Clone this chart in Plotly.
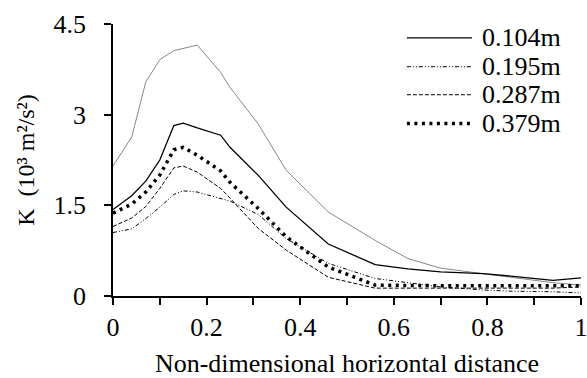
import plotly.graph_objects as go

x = [0, 0.04, 0.07, 0.1, 0.13, 0.15, 0.18, 0.23, 0.25, 0.31, 0.37, 0.46, 0.56, 0.63, 0.70, 0.79, 0.85, 0.94, 1.0]

k_upper = [2.15, 2.63, 3.54, 3.91, 4.06, 4.10, 4.15, 3.70, 3.45, 2.85, 2.08, 1.39, 0.92, 0.62, 0.46, 0.37, 0.31, 0.22, 0.18]
k_104 = [1.43, 1.66, 1.90, 2.25, 2.82, 2.86, 2.78, 2.66, 2.46, 2.00, 1.47, 0.86, 0.52, 0.45, 0.40, 0.37, 0.33, 0.26, 0.30]
k_195 = [1.05, 1.11, 1.28, 1.47, 1.68, 1.74, 1.72, 1.62, 1.57, 1.35, 0.95, 0.54, 0.29, 0.22, 0.15, 0.10, 0.08, 0.07, 0.05]
k_287 = [1.15, 1.29, 1.48, 1.78, 2.12, 2.15, 2.05, 1.78, 1.62, 1.12, 0.76, 0.31, 0.13, 0.13, 0.13, 0.13, 0.13, 0.13, 0.15]
k_379 = [1.37, 1.52, 1.72, 2.00, 2.42, 2.46, 2.33, 2.07, 1.88, 1.45, 0.98, 0.48, 0.18, 0.17, 0.17, 0.17, 0.17, 0.16, 0.17]

names = ["0.104m", "0.195m", "0.287m", "0.379m"]
x_ticks = [0, 0.2, 0.4, 0.6, 0.8, 1]
x_tick_text = ["0", "0.2", "0.4", "0.6", "0.8", "1"]
y_ticks = [0, 1.5, 3, 4.5]
y_tick_text = ["0", "1.5", "3", "4.5"]

FONT = "Liberation Serif"
PAD = "\u00a0\u00a0"  # spacing between y tick labels and tick marks

styles = [
    dict(color="black", width=1.3),
    dict(color="black", width=1, dash="4px,2px,1px,2px,1px,2px"),
    dict(color="black", width=1, dash="4px,2px"),
    dict(color="black", width=3.5, dash="3px,4.5px"),
]

fig = go.Figure()
fig.add_trace(go.Scatter(x=x, y=k_upper, mode="lines", showlegend=False,
                         line=dict(color="#888888", width=1)))
for name, ys, st in zip(names, [k_104, k_195, k_287, k_379], styles):
    fig.add_trace(go.Scatter(x=x, y=ys, mode="lines", name=name, showlegend=False, line=st))

# hand-drawn legend (paper coordinates)
leg_x0, leg_x1, leg_tx = 0.628, 0.767, 0.785
leg_y = [0.949, 0.843, 0.740, 0.634]
for name, st, yy in zip(names, styles, leg_y):
    fig.add_shape(type="line", xref="paper", yref="paper",
                  x0=leg_x0, x1=leg_x1, y0=yy, y1=yy, line=st)
    fig.add_annotation(xref="paper", yref="paper", x=leg_tx, y=yy, text=name,
                       showarrow=False, xanchor="left", yanchor="middle",
                       font=dict(family=FONT, size=26, color="black"))

fig.update_layout(
    width=587, height=378,
    margin=dict(l=113, r=6, t=24, b=82),
    paper_bgcolor="white", plot_bgcolor="white",
    font=dict(family=FONT, size=26, color="black"),
    showlegend=False,
)
fig.update_xaxes(
    range=[0, 1], tickvals=x_ticks, ticktext=x_tick_text,
    showgrid=False, zeroline=False, showline=True, linecolor="black", linewidth=1.5,
    ticks="outside", ticklen=7, tickwidth=1.5, tickcolor="black",
    minor=dict(dtick=0.1, tick0=0, ticks="outside", ticklen=7, tickwidth=1.5, tickcolor="black"),
    title=dict(text="Non-dimensional horizontal distance", font=dict(family=FONT, size=26), standoff=14),
    tickfont=dict(family=FONT, size=26), automargin=False, ticklabeloverflow="allow",
)
fig.update_yaxes(
    range=[0, 4.5], tickvals=y_ticks, ticktext=[t + PAD for t in y_tick_text],
    showgrid=False, zeroline=False, showline=True, linecolor="black", linewidth=1.5,
    ticks="outside", ticklen=7, tickwidth=1.5, tickcolor="black",
    title=dict(text="K  (10³ m²/s²)", font=dict(family=FONT, size=24), standoff=12),
    tickfont=dict(family=FONT, size=26), automargin=False, ticklabeloverflow="allow",
)

fig.write_html("out.html")
